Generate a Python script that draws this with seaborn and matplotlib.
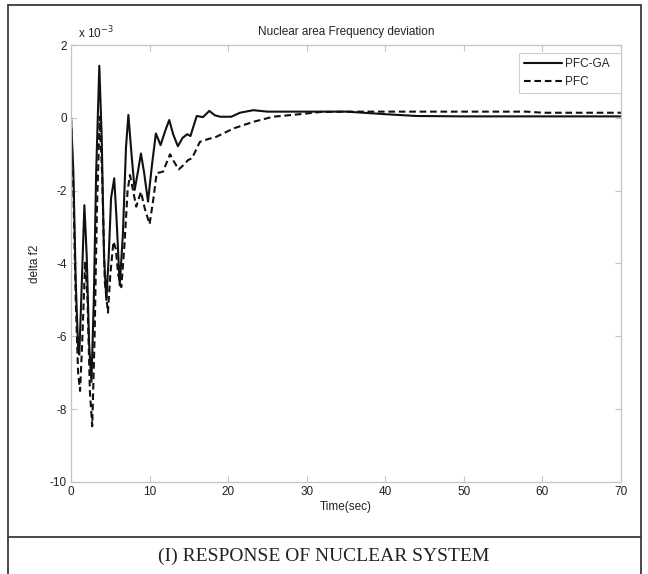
import matplotlib
matplotlib.use("Agg")
import matplotlib.pyplot as plt
from matplotlib.patches import Rectangle
from matplotlib.lines import Line2D
import numpy as np
import pandas as pd
import seaborn as sns

# Frequency deviation of the nuclear area (values in units of 1e-3)
t_ga = [0, 0.3, 0.6, 0.9, 1.05, 1.3, 1.7, 2.0, 2.3, 2.6, 2.9, 3.2, 3.6, 3.9,
        4.2, 4.5, 4.8, 5.1, 5.5, 5.8, 6.2, 6.6, 7.0, 7.3, 7.7, 8.1, 8.5, 8.9,
        9.3, 9.8, 10.3, 10.8, 11.4, 12.0, 12.5, 13.0, 13.6, 14.2, 14.8, 15.2,
        16.0, 16.8, 17.6, 18.3, 19.0, 20.4, 21.5, 23.2, 25, 30, 35, 36.5, 40,
        44, 50, 60, 70]
df_ga = [0, -1.5, -4.5, -6.3, -6.5, -5.0, -2.4, -3.8, -6.2, -7.25, -5.0, -1.5,
         1.43, -0.5, -3.8, -5.0, -3.8, -2.2, -1.66, -2.8, -4.6, -3.2, -0.8,
         0.08, -1.0, -1.98, -1.5, -0.98, -1.5, -2.3, -1.3, -0.43, -0.75, -0.35,
         -0.06, -0.45, -0.78, -0.55, -0.45, -0.5, 0.05, 0.02, 0.19, 0.07, 0.03,
         0.03, 0.14, 0.21, 0.17, 0.17, 0.17, 0.15, 0.10, 0.05, 0.04, 0.04, 0.04]

t_pfc = [0, 0.3, 0.6, 0.9, 1.15, 1.4, 1.8, 2.1, 2.4, 2.7, 3.0, 3.3, 3.65, 3.95,
         4.3, 4.7, 5.0, 5.4, 5.7, 6.0, 6.4, 6.8, 7.2, 7.5, 7.9, 8.3, 8.9, 9.4,
         10.0, 10.5, 10.9, 11.7, 12.6, 13.1, 13.7, 14.3, 14.9, 15.4, 16.4,
         17.5, 18.5, 20.7, 23.2, 25.7, 29.1, 31.7, 35, 45, 58, 60, 70]
df_pfc = [0, -2.0, -5.0, -7.0, -7.5, -6.3, -3.95, -5.0, -7.5, -8.47, -6.0,
          -2.5, 0.03, -1.5, -4.5, -5.35, -4.3, -3.4, -3.6, -4.3, -4.65, -3.5,
          -2.0, -1.57, -2.0, -2.44, -2.03, -2.5, -2.92, -2.2, -1.52, -1.48,
          -1.0, -1.2, -1.42, -1.3, -1.16, -1.11, -0.66, -0.58, -0.52, -0.29,
          -0.11, 0.03, 0.10, 0.16, 0.17, 0.17, 0.17, 0.14, 0.14]

x_ticks = [0, 10, 20, 30, 40, 50, 60, 70]
y_ticks = [-10, -8, -6, -4, -2, 0, 2]

data = pd.concat([
    pd.DataFrame({"Time": t_ga, "dev": df_ga, "Controller": "PFC-GA"}),
    pd.DataFrame({"Time": t_pfc, "dev": df_pfc, "Controller": "PFC"}),
], ignore_index=True)

sns.set_theme(style="white")
plt.rcParams["font.family"] = ["Liberation Sans", "DejaVu Sans"]

fig = plt.figure(figsize=(6.48, 5.74), dpi=100)
ax = fig.add_axes([0.1096, 0.1603, 0.8487, 0.7613])

sns.lineplot(data=data, x="Time", y="dev", hue="Controller", style="Controller",
             palette={"PFC-GA": "#111111", "PFC": "#111111"},
             dashes={"PFC-GA": "", "PFC": (3.2, 1.8)},
             linewidth=1.5, ax=ax, legend=False, sort=False)

ax.set_xlim(0, 70)
ax.set_ylim(-10, 2)
ax.set_xticks(x_ticks)
ax.set_yticks(y_ticks)
ax.set_xticklabels([str(v) for v in x_ticks])
ax.set_yticklabels([str(v) for v in y_ticks])

grey = "#c4c4c4"
for s in ax.spines.values():
    s.set_color(grey)
    s.set_linewidth(0.9)
ax.tick_params(axis="both", which="both", direction="in", length=4,
               color=grey, width=0.8, labelsize=8.5, labelcolor="#222222",
               top=True, right=True, bottom=True, left=True, pad=3)

ax.set_xlabel("Time(sec)", fontsize=8.5, color="#222222", labelpad=2)
ax.set_ylabel("delta f2", fontsize=8.5, color="#222222", labelpad=6)
ax.set_title("Nuclear area Frequency deviation", fontsize=8.5,
             color="#222222", pad=7)
ax.text(0.013, 1.008, r"x 10$^{-3}$", transform=ax.transAxes, fontsize=8.5,
        color="#222222", ha="left", va="bottom")

handles = [Line2D([], [], color="#111111", lw=1.5, ls="-"),
           Line2D([], [], color="#111111", lw=1.5, ls=(0, (3.2, 1.8)))]
leg = ax.legend(handles, ["PFC-GA  ", "PFC  "], loc="upper right",
                bbox_to_anchor=(1.0, 0.982), fontsize=8.5, frameon=True,
                fancybox=False, handlelength=3.2, handletextpad=0.3,
                borderpad=0.45, labelspacing=0.5, borderaxespad=0)
leg.get_frame().set_edgecolor(grey)
leg.get_frame().set_linewidth(0.8)

# Outer panel frame and caption row
fig.patches.append(Rectangle((8 / 648, -0.01), 633 / 648, 1 - 5 / 574 + 0.01,
                             transform=fig.transFigure, fill=False,
                             edgecolor="#3a3a3a", linewidth=1.3))
fig.lines.append(Line2D([8 / 648, 641 / 648], [1 - 537 / 574, 1 - 537 / 574],
                        transform=fig.transFigure, color="#3a3a3a", lw=1.3))
fig.text(0.5, 1 - 556 / 574, "(I) RESPONSE OF NUCLEAR SYSTEM",
         family=["Liberation Serif", "DejaVu Serif"], fontsize=14,
         color="#222222", ha="center", va="center")

fig.savefig("out.png", dpi=100)
